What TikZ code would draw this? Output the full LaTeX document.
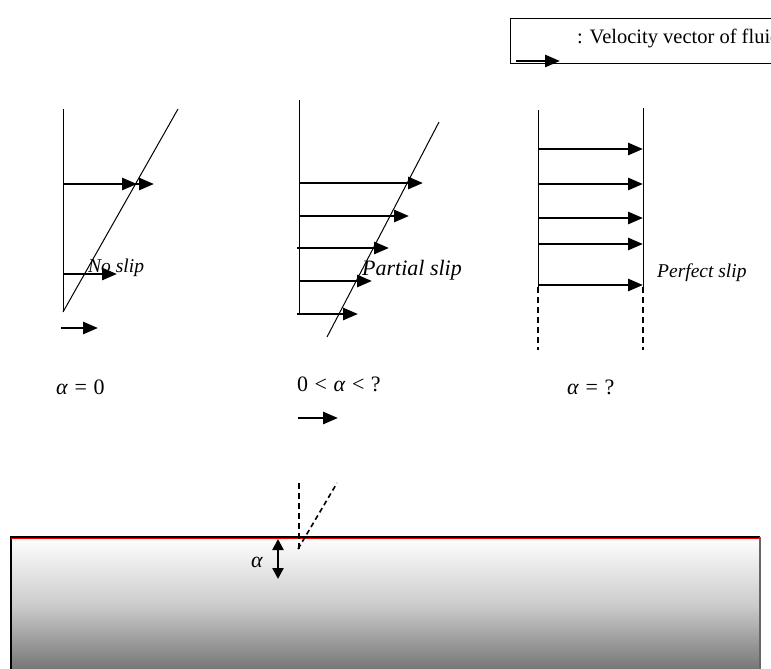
\documentclass[tikz,border=0pt]{standalone}
\usepackage{fontspec}
\setmainfont{Liberation Serif}
\usetikzlibrary{arrows.meta}
\begin{document}
\begin{tikzpicture}[x=1pt,y=-1pt,
  vec/.style={line width=2.8pt,-{Triangle[length=15pt,width=12pt]}},
  wall/.style={line width=1pt},
  lbl/.style={font=\fontsize{19.5}{22}\selectfont\itshape, inner sep=0pt, anchor=west},
  eq/.style={font=\fontsize{22}{24}\selectfont, inner sep=0pt},
  dash2/.style={line width=2.2pt, dash pattern=on 6pt off 4pt},
  ]
\useasboundingbox (0,0) rectangle (771,669);
\clip (0,0) rectangle (771,669);

% legend
\coordinate (lgtl) at (510,19);
\coordinate (lgbl) at (510,64);
\coordinate (lgbr) at (775,64);
\coordinate (lgtr) at (775,19);
\draw[line width=1pt] (lgtr) -- (lgtl) -- (lgbl) -- (lgbr);
\coordinate (la) at (516,61);
\coordinate (lb) at (560,61);
\draw[vec] (la) -- (lb);
\node[inner sep=0pt, font=\fontsize{20.5}{23}\selectfont, anchor=west] (legtxt) at (577,38) {: Velocity vector of fluid};

% panel 1: no slip
\coordinate (p1t) at (63,109);
\coordinate (p1b) at (63,312);
\coordinate (p1d) at (178,109);
\draw[wall] (p1t) -- (p1b);
\draw[wall] (p1b) -- (p1d);
\coordinate (a1s) at (63,184);
\coordinate (a1e) at (137,184);
\coordinate (a1f) at (154,184);
\draw[vec] (a1s) -- (a1f);
\draw[vec] (a1s) -- (a1e);
\coordinate (a2s) at (63,274);
\coordinate (a2e) at (117,274);
\draw[vec] (a2s) -- (a2e);
\node[lbl] (noslip) at (88,268) {No slip};
\coordinate (a3s) at (61,328);
\coordinate (a3e) at (98,328);
\draw[vec] (a3s) -- (a3e);
\node[eq, anchor=west] (eq1) at (56,387) {\textit{α}\hspace{1pt} = \hspace{1pt}0};

% panel 2: partial slip
\coordinate (p2t) at (299,100);
\coordinate (p2b) at (299,315);
\coordinate (p2d1) at (327,337);
\coordinate (p2d2) at (439,122);
\draw[wall] (p2t) -- (p2b);
\draw[wall] (p2d1) -- (p2d2);
\coordinate (b1s) at (299,183); \coordinate (b1e) at (423,183);
\coordinate (b2s) at (299,216); \coordinate (b2e) at (409,216);
\coordinate (b3s) at (297,248); \coordinate (b3e) at (389,248);
\coordinate (b4s) at (299,281); \coordinate (b4e) at (372,281);
\coordinate (b5s) at (297,314); \coordinate (b5e) at (358,314);
\draw[vec] (b1s) -- (b1e);
\draw[vec] (b2s) -- (b2e);
\draw[vec] (b3s) -- (b3e);
\draw[vec] (b4s) -- (b4e);
\draw[vec] (b5s) -- (b5e);
\node[lbl, font=\fontsize{22}{24}\selectfont\itshape] (partial) at (362,270) {Partial slip};
\node[eq, anchor=west] (eq2) at (297,384) {0\hspace{1pt} {\textless}\hspace{1pt} \textit{α}\hspace{1pt} {\textless}\hspace{1pt} ?};
\coordinate (c1s) at (298,418); \coordinate (c1e) at (338,418);
\draw[vec] (c1s) -- (c1e);

% panel 3: perfect slip
\coordinate (p3lt) at (538,110);
\coordinate (p3lb) at (538,287);
\coordinate (p3ld) at (538,350);
\coordinate (p3rt) at (643,108);
\coordinate (p3rb) at (643,287);
\coordinate (p3rd) at (643,350);
\draw[wall] (p3lt) -- (p3lb);
\draw[wall] (p3rt) -- (p3rb);
\draw[dash2] (p3lb) -- (p3ld);
\draw[dash2] (p3rb) -- (p3rd);
\foreach \yy/\nm in {149/d1,184/d2,218/d3,244/d4,285/d5}{
  \coordinate (\nm s) at (538,\yy);
  \coordinate (\nm e) at (643,\yy);
  \draw[vec] (\nm s) -- (\nm e);
}
\node[lbl] (perfect) at (657,273) {Perfect slip};
\node[eq, anchor=west] (eq3) at (567,387) {\textit{α}\hspace{1pt} = \hspace{1pt}?};

% surface
\coordinate (stl) at (11,537);
\coordinate (sbr) at (760,672);
\shade[top color=white, bottom color=black!55, middle color=black!20] (stl) rectangle (sbr);
\draw[line width=1.3pt] (11,672) -- (11,537) -- (760,537);
\draw[line width=1.3pt, black!60] (760,537) -- (760,672);
\draw[red, line width=0.8pt] (11,538.5) -- (760,538.5);

% contact angle sketch
\coordinate (vt) at (299,483);
\coordinate (vb) at (299,549);
\coordinate (dt) at (337,483);
\coordinate (db) at (298,549);
\draw[dash2] (vt) -- (vb);
\draw[line width=1.6pt, dash pattern=on 5pt off 3.5pt] (db) -- (dt);
\coordinate (ht) at (278,539);
\coordinate (hb) at (278,579);
\draw[line width=2.4pt,{Triangle[length=11pt,width=11pt]}-{Triangle[length=11pt,width=11pt]}] (ht) -- (hb);
\node[eq] (alab) at (257,562) {\textit{α}};
\end{tikzpicture}
\end{document}
